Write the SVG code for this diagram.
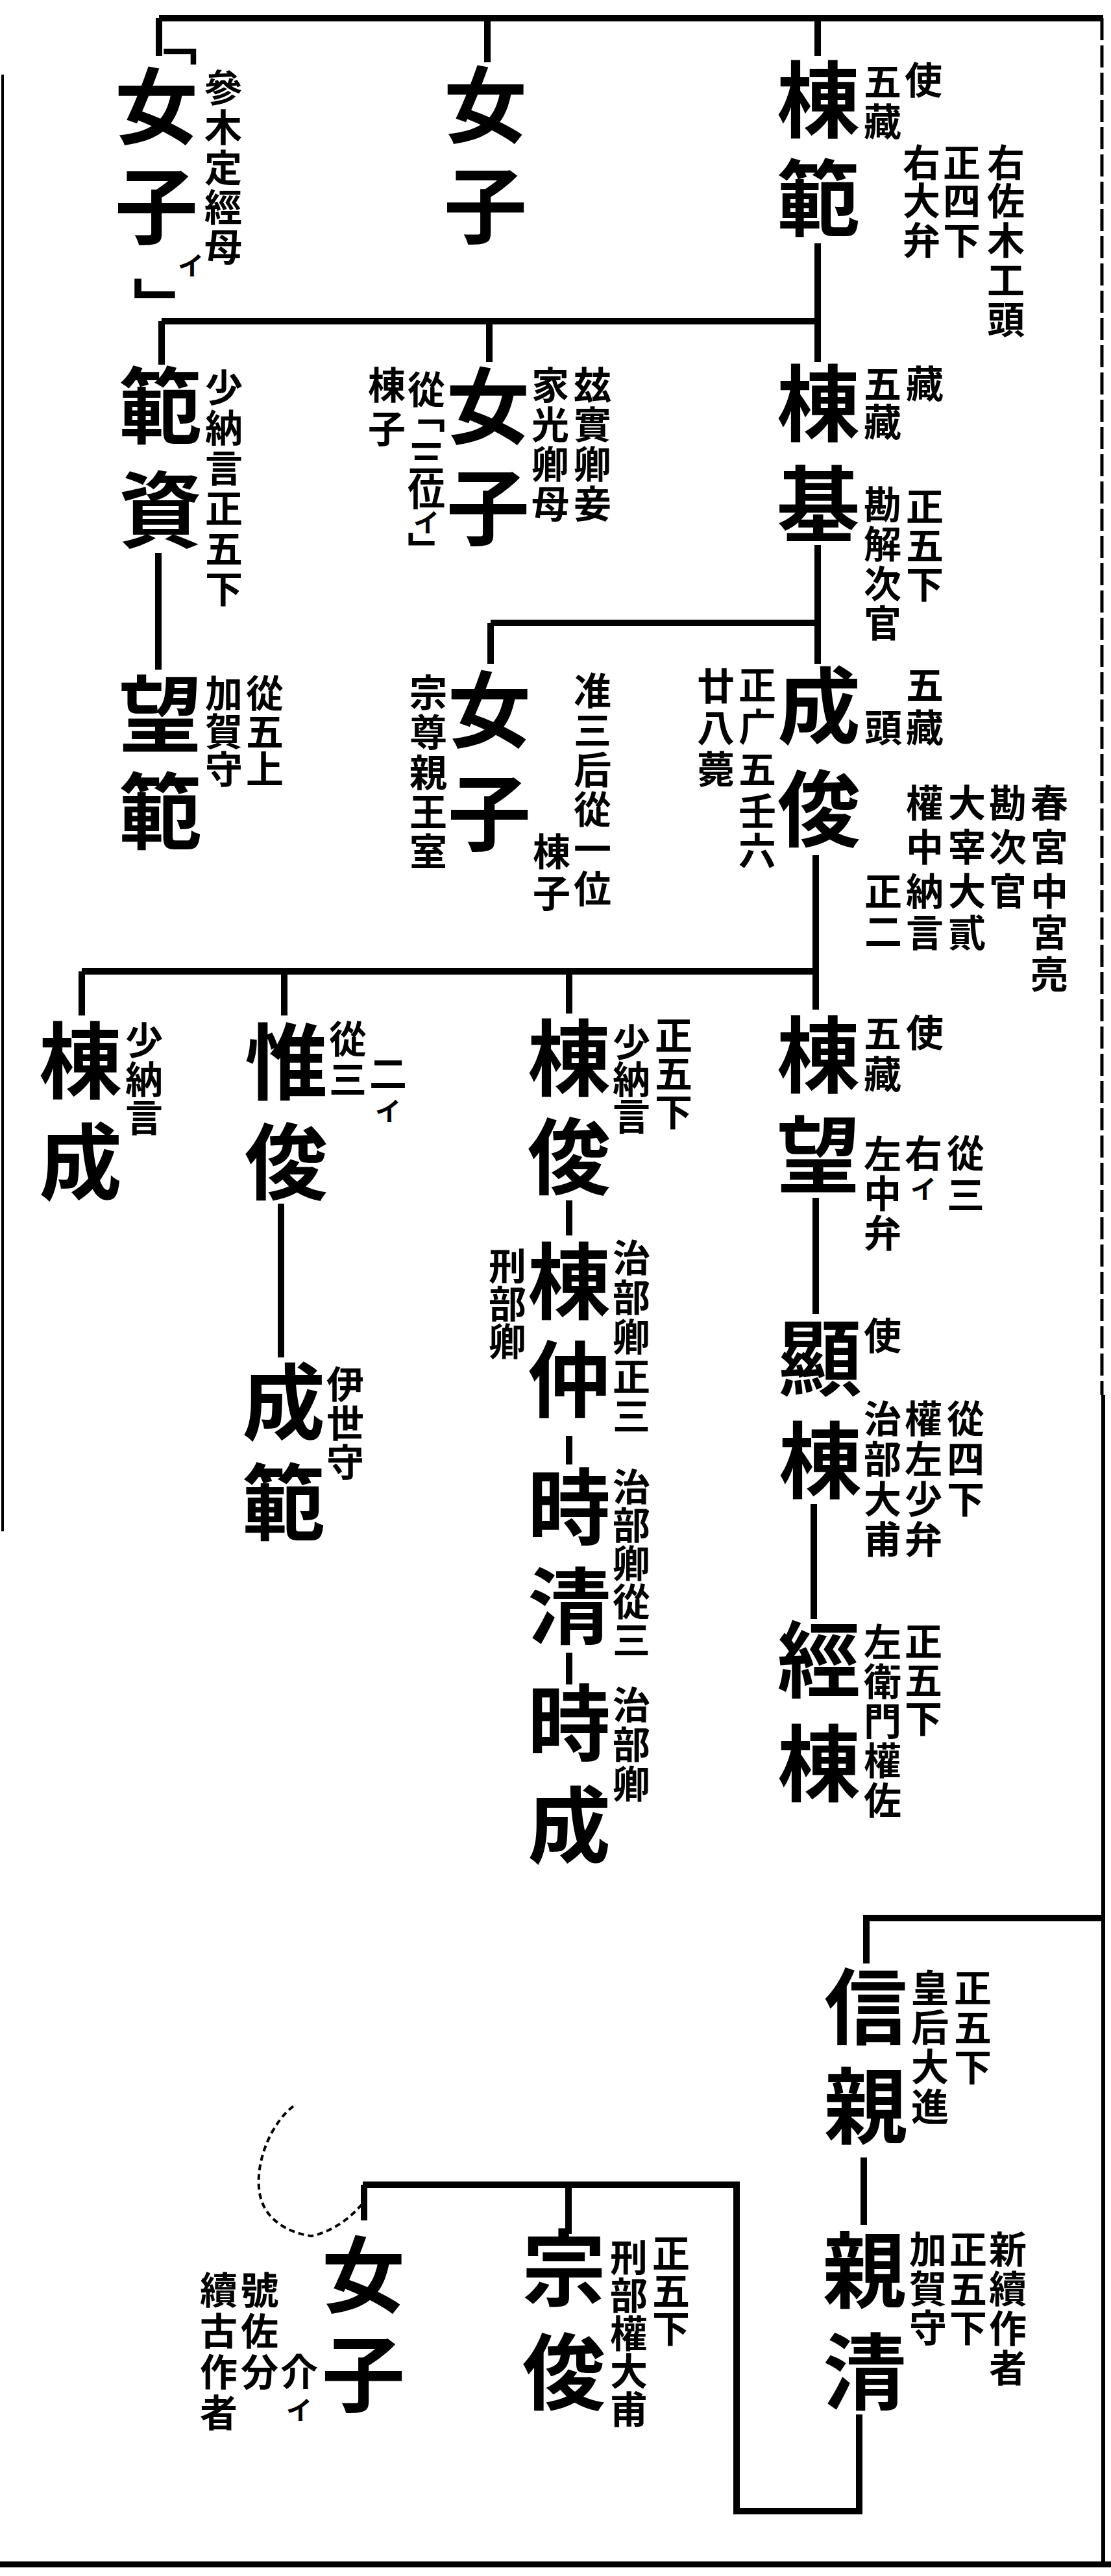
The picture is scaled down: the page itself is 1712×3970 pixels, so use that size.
<svg xmlns="http://www.w3.org/2000/svg" width="1712" height="3970" viewBox="0 0 1712 3970">
<style>
text{font-family:"Noto Sans CJK JP","Noto Sans CJK SC",sans-serif;fill:#000;text-anchor:middle}
.b{font-size:128px;font-weight:700}
.s{font-size:58px;font-weight:700}
.t{font-size:40px;font-weight:700}
.k{font-size:90px;font-weight:700}
.k2{font-size:72px;font-weight:700}
.ln{stroke:#000;stroke-width:10;fill:none;stroke-linecap:butt;stroke-linejoin:miter}
.bd{stroke:#000;fill:none}
</style>
<rect width="1712" height="3970" fill="#fff"/>
<g id="frame">
<path class="bd" d="M1698,28 V2150" stroke-width="5" stroke-dasharray="34 8"/>
<path class="bd" d="M1700,2150 V3952" stroke-width="6"/>
<path class="bd" d="M0,3952 H1712" stroke-width="9"/>
<path class="bd" d="M4,115 V2360" stroke-width="4"/>
</g>
<g id="connectors">
<path class="ln" d="M245,28 H1700"/>
<path class="ln" d="M245,28 V86"/>
<path class="ln" d="M751,28 V96"/>
<path class="ln" d="M1260,28 V86"/>
<path class="ln" d="M1260,375 V558"/>
<path class="ln" d="M249,495 H1260"/>
<path class="ln" d="M249,495 V562"/>
<path class="ln" d="M754,495 V558"/>
<path class="ln" d="M244,852 V1032"/>
<path class="ln" d="M1260,840 V1023"/>
<path class="ln" d="M756,960 H1260"/>
<path class="ln" d="M756,960 V1023"/>
<path class="ln" d="M1257,1318 V1556"/>
<path class="ln" d="M126,1497 H1257"/>
<path class="ln" d="M126,1497 V1565"/>
<path class="ln" d="M438,1497 V1565"/>
<path class="ln" d="M877,1497 V1562"/>
<path class="ln" d="M433,1855 V2092"/>
<path class="ln" d="M877,1850 V1904"/>
<path class="ln" d="M877,2213 V2257"/>
<path class="ln" d="M877,2547 V2596"/>
<path class="ln" d="M1257,1846 V2025"/>
<path class="ln" d="M1254,2318 V2495"/>
<path class="ln" d="M1335,3026 V2956 H1700"/>
<path class="ln" d="M1331,3325 V3429"/>
<path class="ln" d="M1324,3721 V3870 H1135 V3367 H559"/>
<path class="ln" d="M561,3367 V3422"/>
<path class="ln" d="M876,3367 V3443"/>
<path d="M452,3246 C420,3270 392,3330 400,3380 C408,3425 450,3442 480,3446 C510,3440 538,3420 557,3398" fill="none" stroke="#000" stroke-width="4" stroke-dasharray="9 6"/>
</g>
<g id="n1">
<text><tspan class="k2" x="268" y="92">﹁</tspan><tspan class="b" x="241 241" y="212 366">女子</tspan><tspan class="t" x="294" y="424">イ</tspan><tspan class="k" x="250" y="505">﹂</tspan></text>
<text class="s" x="344 344 344 344 344" y="157 218 280 341 402">參木定經母</text>
</g>
<g id="n2">
<text class="b" x="748 748" y="210 365">女子</text>
</g>
<g id="n3">
<text class="b" x="1261 1261" y="202 354">棟範</text>
<text class="s" x="1423" y="145">使</text>
<text class="s" x="1360 1360" y="147 209">五藏</text>
<text class="s" x="1420 1420 1420" y="272 331 392">右大弁</text>
<text class="s" x="1482 1482 1482" y="272 331 392">正四下</text>
<text class="s" x="1550 1550 1550 1550 1550" y="272 331 392 453 514">右佐木工頭</text>
</g>
<g id="n4">
<text class="b" x="247 247" y="674 834">範資</text>
<text class="s" x="345 345 345 345 345 345" y="619 681 743 805 867 929">少納言正五下</text>
</g>
<g id="n5">
<text class="b" x="752 752" y="674 830">女子</text>
<text class="s"><tspan x="657 657" y="622 660">從﹁</tspan><tspan x="657 657" y="727 779">三位</tspan><tspan class="t" x="657" y="820">イ</tspan><tspan x="657" y="870">﹂</tspan></text>
<text class="s" x="596 596" y="615 682">棟子</text>
<text class="s" x="848 848 848 848" y="615 676 737 798">家光卿母</text>
<text class="s" x="913 913 913 913" y="615 676 737 798">玆實卿妾</text>
</g>
<g id="n6">
<text class="b" x="1261 1261" y="670 826">棟基</text>
<text class="s" x="1425" y="613">藏</text>
<text class="s" x="1360 1360" y="613 672">五藏</text>
<text class="s" x="1360 1360 1360 1360" y="799 860 921 982">勘解次官</text>
<text class="s" x="1425 1425 1425" y="802 862 922">正五下</text>
</g>
<g id="n7">
<text class="b" x="247 247" y="1149 1299">望範</text>
<text class="s" x="408 408 408" y="1090 1149 1207">從五上</text>
<text class="s" x="345 345 345" y="1090 1149 1207">加賀守</text>
</g>
<g id="n8">
<text class="b" x="754 754" y="1142 1301">女子</text>
<text class="s" x="660 660 660 660 660" y="1089 1150 1212 1273 1334">宗尊親王室</text>
<text class="s" x="850 850" y="1334 1398">棟子</text>
<text class="s" x="913 913 913 913 913 913" y="1086 1147 1208 1269 1330 1391">准三后從一位</text>
</g>
<g id="n9">
<text class="b" x="1262 1262" y="1136 1295">成俊</text>
<text class="s" x="1425 1425" y="1077 1143">五藏</text>
<text class="s" x="1361" y="1143">頭</text>
<text class="s" x="1103 1103 1103" y="1079 1143 1207">廿八薨</text>
<text class="s" x="1167 1167 1167 1167 1167" y="1077 1142 1207 1272 1333">正广五壬六</text>
<text class="s" x="1617 1617 1617 1617 1617" y="1259 1327 1395 1459 1523">春宮中宮亮</text>
<text class="s" x="1553 1553 1553" y="1259 1327 1395">勘次官</text>
<text class="s" x="1490 1490 1490 1490" y="1259 1327 1395 1459">大宰大貳</text>
<text class="s" x="1425 1425 1425 1425" y="1259 1327 1395 1459">權中納言</text>
<text class="s" x="1361 1361" y="1395 1457">正二</text>
</g>
<g id="n10">
<text class="b" x="124 124" y="1683 1839">棟成</text>
<text class="s" x="222 222 222" y="1625 1685 1744">少納言</text>
</g>
<g id="n11">
<text class="b" x="441 441" y="1685 1839">惟俊</text>
<text class="s" x="536 536" y="1623 1685">從三</text>
<text class="s"><tspan x="598" y="1676">二</tspan><tspan class="t" x="598" y="1727">イ</tspan></text>
</g>
<g id="n12">
<text class="b" x="437 437" y="2209 2364">成範</text>
<text class="s" x="532 532 532" y="2155 2215 2275">伊世守</text>
</g>
<g id="n13">
<text class="b" x="877 877" y="1679 1831">棟俊</text>
<text class="s" x="973 973 973" y="1628 1685 1742">少納言</text>
<text class="s" x="1038 1038 1038" y="1617 1676 1735">正五下</text>
</g>
<g id="n14">
<text class="b" x="877 877" y="2023 2174">棟仲</text>
<text class="s" x="782 782 782" y="1973 2031 2089">刑部卿</text>
<text class="s" x="973 973 973 973 973" y="1960 2021 2082 2143 2204">治部卿正三</text>
</g>
<g id="n15">
<text class="b" x="877 877" y="2371 2524">時清</text>
<text class="s" x="973 973 973 973 973" y="2313 2372 2431 2490 2549">治部卿從三</text>
</g>
<g id="n16">
<text class="b" x="877 877" y="2704 2861">時成</text>
<text class="s" x="973 973 973" y="2649 2710 2771">治部卿</text>
</g>
<g id="n17">
<text class="b" x="1261 1261" y="1674 1828">棟望</text>
<text class="s" x="1425" y="1613">使</text>
<text class="s" x="1360 1360" y="1614 1677">五藏</text>
<text class="s" x="1360 1360 1360" y="1800 1861 1922">左中弁</text>
<text class="s"><tspan x="1423" y="1799">右</tspan><tspan class="t" x="1423" y="1847">イ</tspan></text>
<text class="s" x="1488 1488" y="1799 1863">從三</text>
</g>
<g id="n18">
<text class="b" x="1264 1264" y="2141 2299">顯棟</text>
<text class="s" x="1360" y="2080">使</text>
<text class="s" x="1360 1360 1360 1360" y="2208 2270 2332 2394">治部大甫</text>
<text class="s" x="1423 1423 1423 1423" y="2208 2270 2332 2394">權左少弁</text>
<text class="s" x="1488 1488 1488" y="2208 2270 2332">從四下</text>
</g>
<g id="n19">
<text class="b" x="1262 1262" y="2606 2766">經棟</text>
<text class="s" x="1360 1360 1360 1360 1360" y="2552 2613 2674 2735 2796">左衛門權佐</text>
<text class="s" x="1423 1423 1423" y="2551 2611 2670">正五下</text>
</g>
<g id="n20">
<text class="b" x="1334 1334" y="3141 3294">信親</text>
<text class="s" x="1433 1433 1433 1433" y="3085 3146 3207 3268">皇后大進</text>
<text class="s" x="1499 1499 1499" y="3085 3146 3207">正五下</text>
</g>
<g id="n21">
<text class="b" x="1332 1332" y="3547 3704">親清</text>
<text class="s" x="1430 1430 1430" y="3488 3549 3609">加賀守</text>
<text class="s" x="1492 1492 1492" y="3488 3549 3609">正五下</text>
<text class="s" x="1553 1553 1553 1553" y="3488 3549 3610 3671">新續作者</text>
</g>
<g id="n22">
<text class="b" x="869 869" y="3544 3704">宗俊</text>
<text class="s" x="969 969 969 969 969" y="3501 3559 3618 3676 3735">刑部權大甫</text>
<text class="s" x="1034 1034 1034" y="3494 3552 3610">正五下</text>
</g>
<g id="n23">
<text class="b" x="560 560" y="3554 3707">女子</text>
<text class="s"><tspan x="461" y="3677">介</tspan><tspan class="t" x="461" y="3729">イ</tspan></text>
<text class="s" x="400 400 400" y="3551 3614 3677">號佐分</text>
<text class="s" x="337 337 337 337" y="3551 3614 3677 3740">續古作者</text>
</g>
</svg>
